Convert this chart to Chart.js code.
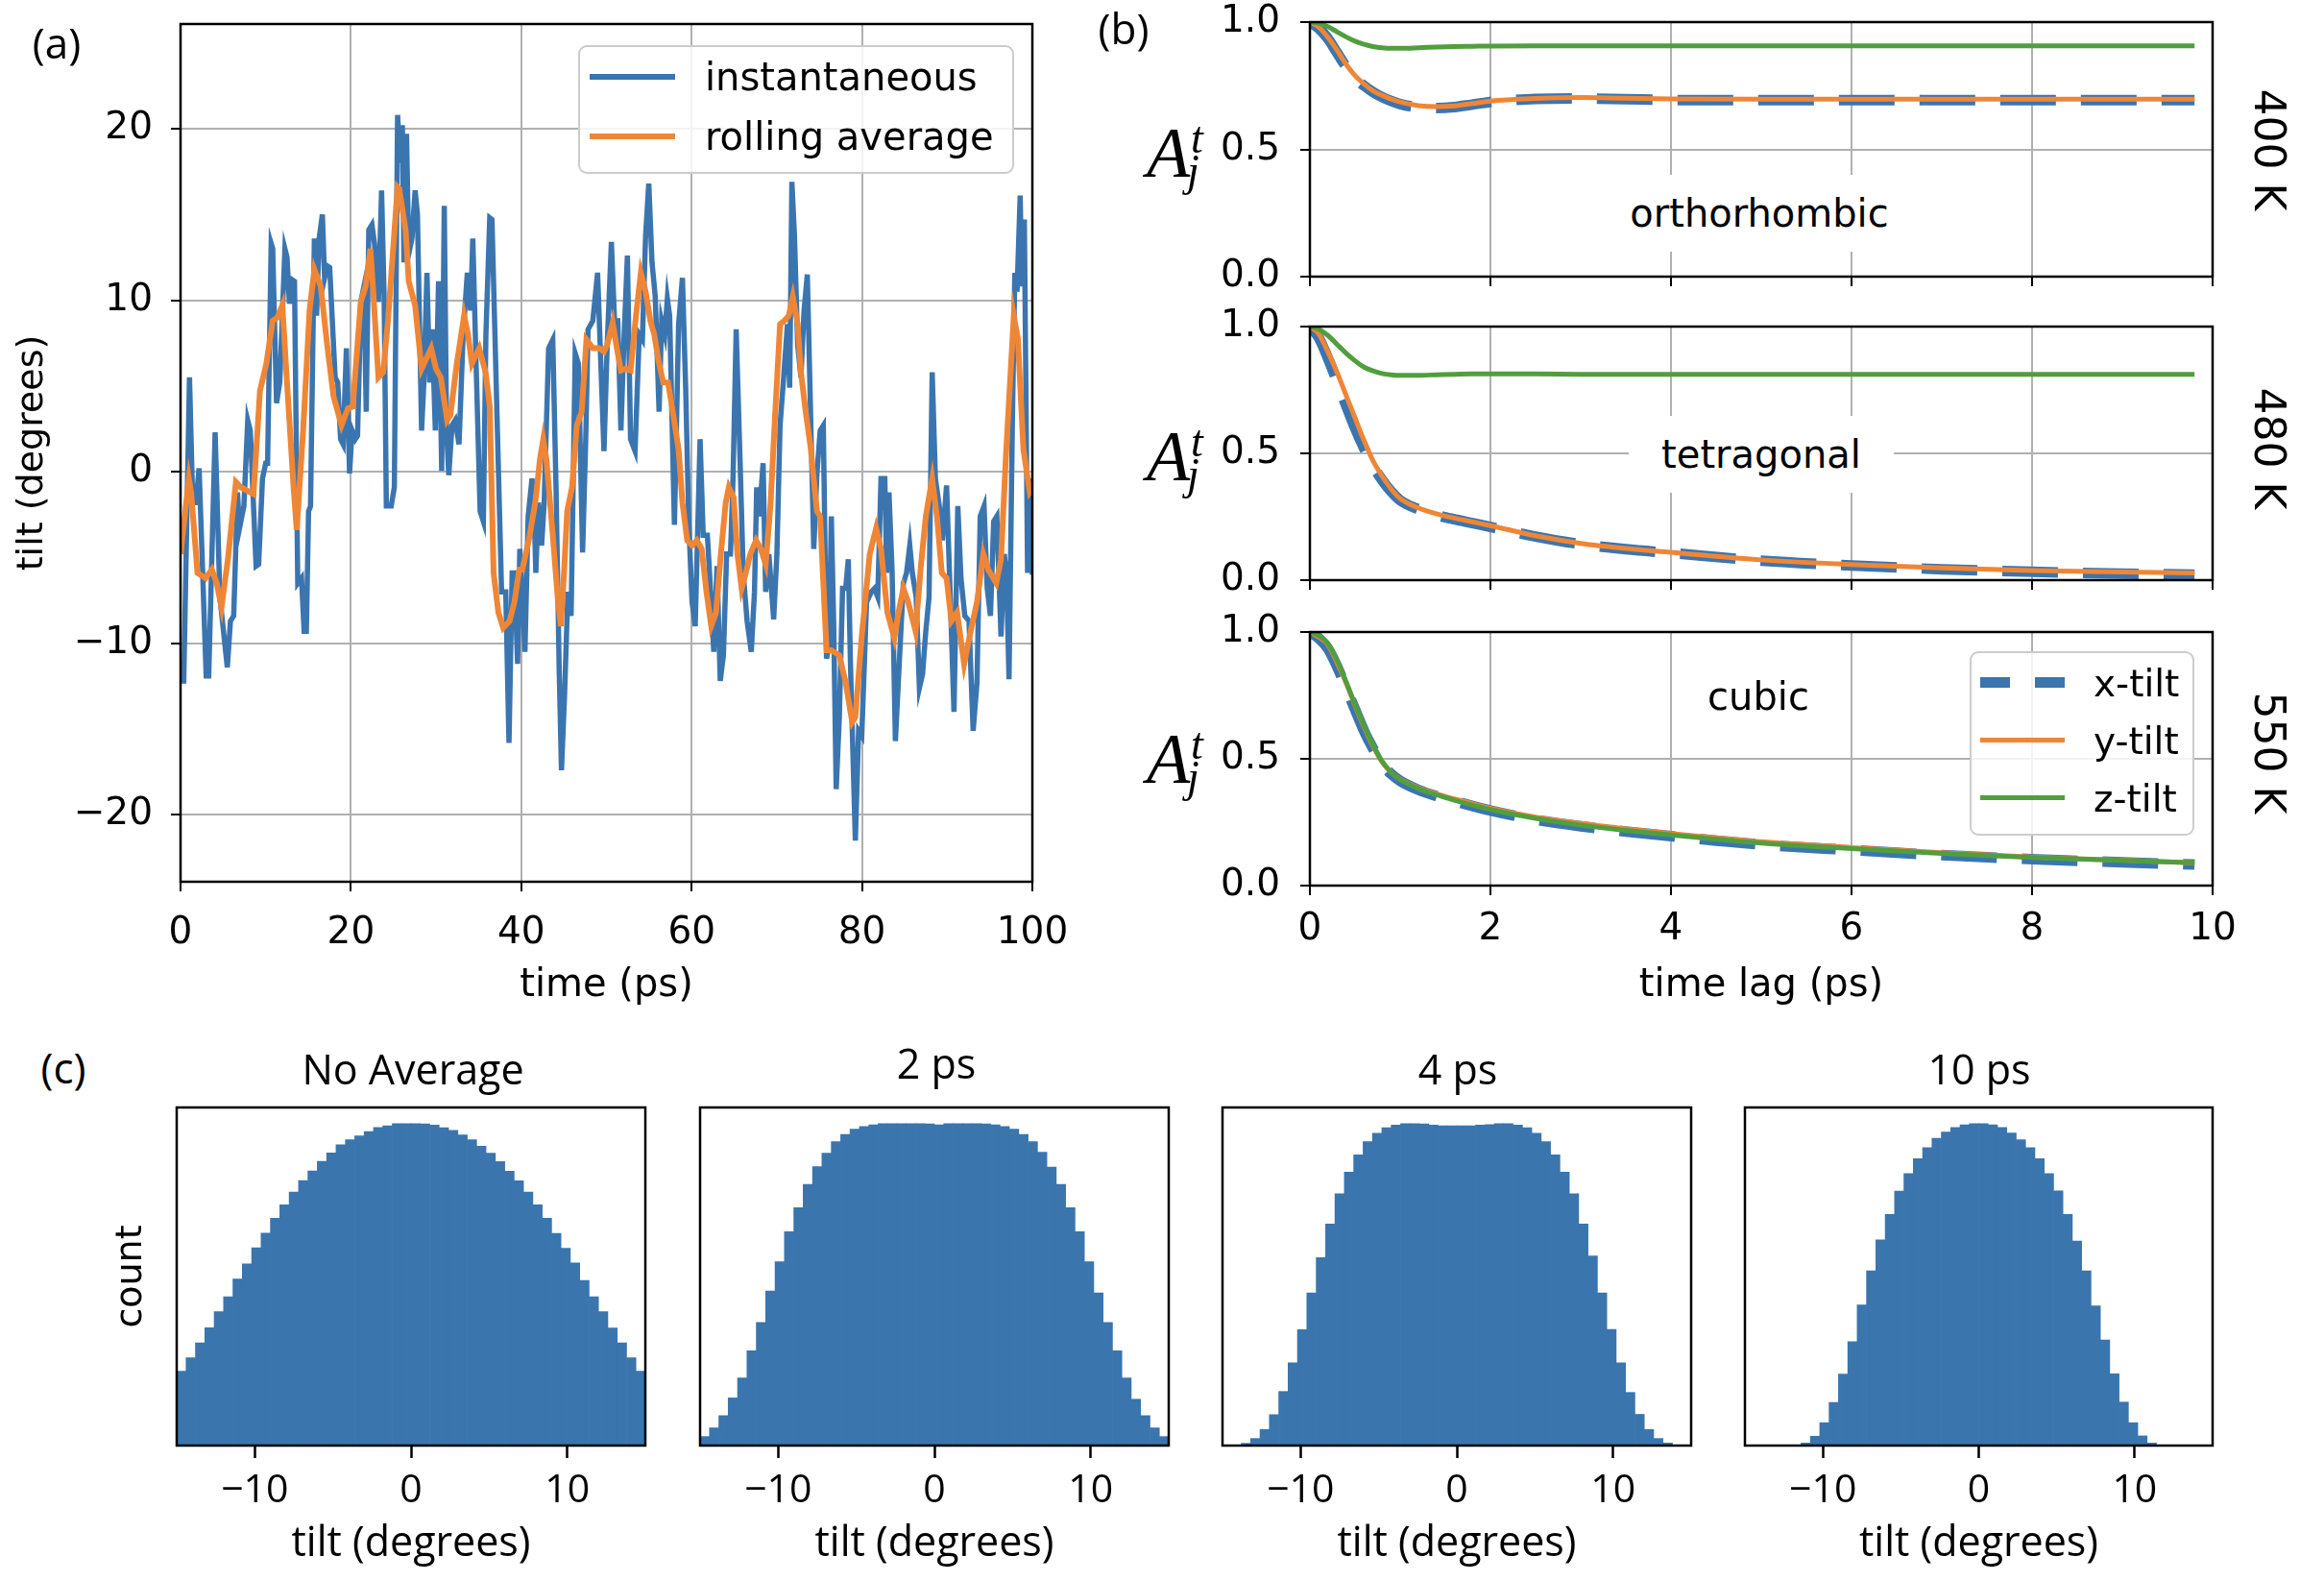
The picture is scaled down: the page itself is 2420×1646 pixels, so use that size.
<!DOCTYPE html>
<html>
<head>
<meta charset="utf-8">
<script src="https://cdn.jsdelivr.net/npm/chart.js@4.4.1/dist/chart.umd.min.js"></script>
<style>
  html, body { margin: 0; padding: 0; background: #fff; }
  body { width: 2420px; height: 1646px; position: relative; overflow: hidden; }
  .box { position: absolute; }
  .t { position: absolute; white-space: nowrap; line-height: 1; color: #000; transform: translate(-50%, -50%); z-index: 5; }
  .l { position: absolute; white-space: nowrap; line-height: 1; color: #000; transform: translate(0, -50%); z-index: 6; }
  .dv { font-family: 'DejaVu Sans'; }
  .os { font-family: 'Open Sans'; }
  .rot { transform: translate(-50%, -50%) rotate(90deg); }
  .legend { position: absolute; border: 2px solid #cccccc; border-radius: 9px; background: rgba(255,255,255,0.85); z-index: 5; box-sizing: border-box; }
  .sw { position: absolute; z-index: 6; }
  .note { background: #fff; padding: 20px 34px; }
  .A { position: absolute; font-family: 'Liberation Serif'; font-style: italic; line-height: 1; z-index: 5; }
</style>
</head>
<body>

<div class="box" id="wa"><canvas id="ca"></canvas></div>
<div class="box" id="wb1"><canvas id="cb1"></canvas></div>
<div class="box" id="wb2"><canvas id="cb2"></canvas></div>
<div class="box" id="wb3"><canvas id="cb3"></canvas></div>
<div class="box" id="wc1"><canvas id="cc1"></canvas></div>
<div class="box" id="wc2"><canvas id="cc2"></canvas></div>
<div class="box" id="wc3"><canvas id="cc3"></canvas></div>
<div class="box" id="wc4"><canvas id="cc4"></canvas></div>

<!-- panel letters -->
<div class="t os" style="left:59px;top:44px;font-size:44px;">(a)</div>
<div class="t os" style="left:1170px;top:29px;font-size:44px;">(b)</div>
<div class="t os" style="left:66px;top:1111px;font-size:44px;">(c)</div>

<!-- legend (a) -->
<div class="legend" style="left:602px;top:47px;width:454px;height:134px;"></div>
<div class="sw" style="left:614px;top:77px;width:89px;height:6px;background:#3b75af;"></div>
<div class="sw" style="left:614px;top:139px;width:89px;height:6px;background:#ef8636;"></div>
<div class="l dv" style="left:734px;top:80px;font-size:40px;">instantaneous</div>
<div class="l dv" style="left:734px;top:142px;font-size:40px;">rolling average</div>

<!-- legend (b) -->
<div class="legend" style="left:2051px;top:678px;width:234px;height:192px;"></div>
<div class="sw" style="left:2062px;top:705px;width:88px;height:11px;background:repeating-linear-gradient(to right,#3b75af 0 31px,transparent 31px 57px);"></div>
<div class="sw" style="left:2062px;top:768px;width:88px;height:5px;background:#ef8636;"></div>
<div class="sw" style="left:2062px;top:828px;width:88px;height:5px;background:#519e3e;"></div>
<div class="l dv" style="left:2180px;top:711px;font-size:39px;">x-tilt</div>
<div class="l dv" style="left:2180px;top:771px;font-size:39px;">y-tilt</div>
<div class="l dv" style="left:2180px;top:831px;font-size:39px;">z-tilt</div>

<!-- phase labels -->
<div class="t dv note" style="left:1832px;top:222px;font-size:40px;">orthorhombic</div>
<div class="t dv note" style="left:1834px;top:473px;font-size:40px;">tetragonal</div>
<div class="t dv" style="left:1831px;top:725px;font-size:40px;">cubic</div>

<!-- temperatures -->
<div class="t dv rot" style="left:2363px;top:156px;font-size:44px;">400 K</div>
<div class="t dv rot" style="left:2363px;top:467px;font-size:44px;">480 K</div>
<div class="t dv rot" style="left:2363px;top:784px;font-size:44px;">550 K</div>

<!-- A_j^t labels -->
<div class="A" style="left:1194px;top:122px;font-size:74px;">A</div>
<div class="A" style="left:1240px;top:121px;font-size:46px;">t</div>
<div class="A" style="left:1236px;top:155px;font-size:46px;">j</div>
<div class="A" style="left:1194px;top:438px;font-size:74px;">A</div>
<div class="A" style="left:1240px;top:437px;font-size:46px;">t</div>
<div class="A" style="left:1236px;top:471px;font-size:46px;">j</div>
<div class="A" style="left:1194px;top:753px;font-size:74px;">A</div>
<div class="A" style="left:1240px;top:752px;font-size:46px;">t</div>
<div class="A" style="left:1236px;top:786px;font-size:46px;">j</div>

<!-- histogram titles -->
<div class="t os" style="left:430px;top:1112px;font-size:43px;">No Average</div>
<div class="t os" style="left:975px;top:1106px;font-size:43px;">2 ps</div>
<div class="t os" style="left:1518px;top:1112px;font-size:43px;">4 ps</div>
<div class="t os" style="left:2061px;top:1112px;font-size:43px;">10 ps</div>

<script>
// ---- (a) tilt trace ----
const instTime = [0, 0.38, 1.05, 1.43, 1.8, 2.18, 3.01, 3.31, 4.06, 4.62, 5.0, 5.49, 5.86, 6.24, 6.69, 6.92, 7.44, 7.89, 8.19, 8.87,
  9.17, 9.62, 10.0, 10.22, 10.64, 10.82, 11.27, 11.65, 12.25, 12.5, 12.78, 13.08, 13.38, 13.76, 14.2, 14.51, 14.77, 15.03, 15.26, 15.71,
  15.97, 16.27, 16.65, 16.91, 17.21, 17.51, 18.15, 18.45, 18.79, 19.09, 19.47, 19.84, 20.14, 20.52, 20.78, 21.16, 21.53, 21.8, 22.1, 22.47,
  22.77, 23.23, 23.6, 23.9, 24.16, 24.73, 25.1, 25.48, 25.78, 26.04, 26.23, 26.53, 26.79, 27.17, 27.54, 27.81, 28.3, 28.56, 28.93, 29.24,
  29.54, 29.91, 30.29, 30.66, 30.96, 31.23, 31.49, 31.87, 32.24, 32.69, 33.18, 33.67, 34.05, 34.31, 34.68, 35.17, 35.55, 35.85, 36.3, 36.56,
  37.69, 38.18, 38.56, 38.93, 39.19, 39.57, 39.83, 40.13, 40.43, 40.81, 41.26, 41.49, 41.71, 42.01, 42.39, 42.69, 43.21, 43.7, 44.08, 44.45,
  44.72, 45.09, 45.47, 45.85, 46.33, 46.71, 47.2, 47.57, 47.84, 48.4, 48.96, 49.71, 50.09, 50.58, 50.95, 51.33, 51.7, 52.08, 52.46, 52.83,
  53.36, 53.85, 54.22, 54.6, 54.97, 55.35, 55.73, 56.18, 56.48, 56.85, 57.15, 57.42, 57.98, 58.47, 58.92, 59.3, 59.67, 60.05, 60.42, 60.99,
  61.36, 61.85, 62.23, 62.6, 62.98, 63.36, 63.73, 64.11, 64.56, 64.86, 65.23, 65.68, 66.06, 66.51, 67.0, 67.38, 67.64, 67.94, 68.39, 68.69,
  69.07, 69.63, 70.01, 70.38, 70.76, 71.25, 71.51, 71.77, 72.07, 72.45, 72.83, 73.2, 73.58, 74.34, 74.71, 75.09, 75.46, 75.84, 76.14, 76.4,
  76.67, 76.97, 77.34, 77.72, 78.09, 78.39, 78.66, 79.22, 79.6, 79.97, 80.54, 81.1, 81.48, 81.85, 82.23, 82.68, 82.9, 83.17, 83.54, 83.92,
  84.48, 84.86, 85.23, 85.61, 85.91, 86.36, 86.74, 87.11, 87.49, 87.87, 88.24, 88.62, 89.07, 89.44, 89.93, 90.31, 90.8, 91.25, 91.62, 92.07,
  92.56, 93.05, 93.5, 93.88, 94.33, 94.7, 95.08, 95.46, 95.83, 96.32, 96.7, 96.96, 97.26, 97.64, 97.94, 98.2, 98.57, 98.76, 99.06, 99.44,
  99.7, 100.0];
const instTilt = [-12.2, -12.2, 5.5, -1.8, -1.8, 0.2, -11.9, -11.9, 2.3, -7.3, -9.1, -11.4, -8.7, -8.4, -1.2, -3.3, -2.0, 3.0, 2.4, -5.5,
  -5.4, -0.4, 0.5, 0.5, 13.3, 13.0, 4.0, 5.2, 13.0, 12.5, 9.8, 11.2, 11.1, -6.5, -6.2, -9.3, -9.3, -2.3, -2.0, 13.6,
  9.1, 13.6, 15.0, 11.3, 12.0, 11.9, 5.5, 5.2, 1.9, 1.6, 7.2, -0.1, 2.4, 1.9, 2.1, 9.9, 10.8, 3.5, 14.1, 14.4,
  13.3, 9.9, 16.4, 10.2, -2.0, -2.0, -0.9, 20.8, 18.0, 20.2, 12.2, 19.7, 12.7, 13.6, 16.4, 15.0, 2.4, 5.2, 11.6, 5.2,
  8.3, 2.4, 11.1, 0.05, 15.5, 2.4, -0.2, 2.7, 3.0, 1.6, 8.0, 11.6, 9.4, 13.6, 6.6, -2.3, -2.9, 8.0, 14.8, 14.7,
  -7.0, -7.0, -15.8, -5.9, -5.9, -11.2, -4.5, -7.3, -10.5, -2.6, -0.4, -1.8, -5.9, -1.8, -4.3, -1.8, 7.2, 7.7, -0.9, -11.5,
  -17.4, -12.9, -7.0, -8.4, 6.9, 6.3, -4.7, 1.9, 8.3, 8.8, 11.6, 1.2, 7.4, 13.4, 8.8, 8.8, 2.4, 8.0, 12.6, 1.9,
  1.2, 8.0, 7.7, 13.8, 16.8, 12.2, 10.2, 3.5, 8.8, 8.0, 10.1, 9.1, -3.1, 8.6, 11.3, 4.9, -3.1, -7.6, -9.0, 1.9,
  -3.7, -3.7, -7.0, -10.5, -5.5, -12.2, -10.7, -4.8, -4.8, -0.4, 8.3, 0.75, -5.9, -8.7, -10.5, -7.0, -0.9, -2.6, 0.5, -7.0,
  -4.8, -8.6, -4.8, 2.7, 5.2, 8.6, 4.9, 16.9, 13.8, 7.4, 5.5, 9.4, 11.5, -4.5, -0.1, 2.4, 2.7, -10.9, -10.1, -2.6,
  -8.7, -18.5, -14.3, -6.8, -6.8, -5.1, -11.5, -21.5, -15.1, -15.4, -7.6, -7.0, -6.8, -7.3, -0.4, -0.4, -5.9, -1.2, -5.9, -15.7,
  -10.1, -6.5, -5.9, -4.3, -5.9, -7.3, -12.6, -11.8, -9.3, -7.3, 5.8, -0.4, -2.0, -4.0, -0.8, -6.5, -14.0, -2.0, -6.2, -8.4,
  -8.7, -15.1, -12.3, -2.6, -2.0, -6.8, -8.4, -2.9, -2.6, -9.6, -4.8, -5.9, -12.1, 2.4, 11.6, 10.5, 16.1, 10.8, 14.7, -5.9,
  -0.4, -6.0];
const rollTime = [0, 0.98, 1.24, 1.99, 2.93, 3.68, 4.25, 4.81, 5.56, 6.5, 7.07, 8.57, 9.32, 10.07, 10.82, 11.39, 11.95, 12.5, 13.27, 13.64,
  14.39, 15.15, 15.71, 16.46, 17.21, 17.96, 18.9, 19.66, 20.22, 21.16, 21.72, 22.29, 22.66, 23.23, 23.79, 24.35, 25.48, 25.67, 26.42, 26.79,
  27.54, 28.3, 28.86, 29.42, 29.99, 30.55, 31.3, 31.68, 32.43, 33.29, 33.75, 34.2, 35.06, 35.81, 36.3, 36.75, 37.31, 37.88, 38.63, 39.19,
  39.76, 40.13, 40.88, 41.64, 42.2, 42.58, 42.95, 43.7, 44.27, 44.64, 45.02, 45.39, 45.96, 46.52, 47.09, 47.65, 48.4, 49.15, 49.71, 50.09,
  50.73, 51.22, 51.7, 52.23, 52.83, 53.47, 54.04, 54.6, 55.16, 55.61, 56.1, 56.67, 57.23, 57.79, 58.47, 58.92, 59.48, 60.05, 60.61, 61.18,
  61.74, 62.3, 62.87, 63.43, 64.0, 64.37, 64.93, 65.38, 65.87, 66.36, 66.89, 67.56, 68.13, 68.69, 69.25, 69.82, 70.38, 70.87, 71.4, 71.88,
  72.45, 72.83, 73.39, 73.95, 74.71, 75.09, 75.84, 76.4, 77.34, 78.09, 78.85, 79.22, 79.97, 80.91, 81.66, 82.23, 82.98, 83.8, 84.29, 84.86,
  85.42, 86.29, 86.93, 87.49, 88.24, 88.8, 89.37, 89.93, 90.5, 91.17, 91.99, 92.75, 93.5, 94.25, 94.82, 95.76, 96.32, 96.88, 97.82, 98.31,
  98.95, 99.7, 100.0];
const rollTilt = [-4.8, -0.4, -1.2, -5.9, -6.2, -5.7, -6.5, -7.9, -5.1, -0.6, -0.9, -1.3, 4.7, 6.3, 8.8, 9.0, 9.7, 5.2, -0.9, -3.4,
  2.4, 9.4, 11.8, 10.8, 7.4, 4.4, 2.7, 3.7, 3.8, 9.9, 10.8, 13.0, 10.2, 5.5, 5.8, 8.8, 16.6, 16.5, 14.1, 11.1,
  9.7, 6.0, 6.6, 7.2, 6.0, 5.5, 3.0, 3.3, 6.3, 9.1, 8.0, 6.3, 7.2, 5.8, 3.8, -5.9, -8.2, -9.1, -8.7, -7.6,
  -5.7, -5.7, -4.0, -1.8, 0.75, 1.9, 0.75, -3.7, -7.3, -9.0, -5.9, -2.3, -0.9, 2.7, 3.5, 7.7, 7.2, 7.2, 7.0, 7.4,
  8.7, 7.2, 5.9, 6.0, 5.9, 9.1, 11.6, 10.5, 8.8, 8.0, 6.5, 5.2, 5.2, 3.5, 1.3, -1.8, -4.0, -4.3, -4.0, -4.5,
  -7.0, -9.0, -8.2, -4.8, -1.8, -0.9, -1.5, -4.8, -6.8, -5.9, -4.8, -4.0, -4.5, -5.4, -2.0, 3.5, 8.6, 8.8, 9.1, 10.2,
  8.6, 5.8, 3.5, 1.5, -2.3, -2.6, -10.4, -10.4, -10.7, -12.3, -14.6, -14.3, -9.6, -4.8, -3.3, -4.5, -8.2, -9.7, -8.2, -6.8,
  -7.6, -9.3, -5.4, -2.6, -0.4, -2.6, -5.9, -6.2, -8.7, -8.2, -11.2, -9.3, -7.6, -4.8, -5.7, -6.5, -5.1, 0.75, 9.1, 7.7,
  1.3, -1.2, -1.0];
const timeTicks = [0, 20, 40, 60, 80, 100];
const tiltTicks = [-20, -10, 0, 10, 20];

// ---- (b) autocorrelation, 400 K / 480 K / 550 K ----
const lagTime = [0, 0.1, 0.2, 0.3, 0.4, 0.5, 0.6, 0.7, 0.8, 0.9, 1.0, 1.2, 1.4, 1.6, 1.8, 2.0, 2.5, 3.0, 3.5, 4, 5, 6, 7, 8, 9, 9.8];
const orthoX = [1.0, 0.975, 0.935, 0.88, 0.825, 0.78, 0.75, 0.725, 0.705, 0.69, 0.678, 0.665, 0.662, 0.666, 0.676, 0.686, 0.698, 0.700, 0.697, 0.694, 0.693, 0.693, 0.693, 0.693, 0.693, 0.693];
const orthoY = [1.0, 0.98, 0.94, 0.89, 0.835, 0.79, 0.757, 0.73, 0.712, 0.698, 0.686, 0.672, 0.668, 0.671, 0.68, 0.69, 0.70, 0.704, 0.701, 0.698, 0.697, 0.697, 0.697, 0.697, 0.697, 0.697];
const orthoZ = [1.0, 0.995, 0.982, 0.962, 0.942, 0.925, 0.913, 0.904, 0.899, 0.897, 0.897, 0.899, 0.902, 0.904, 0.905, 0.906, 0.907, 0.907, 0.907, 0.907, 0.907, 0.907, 0.907, 0.907, 0.907, 0.907];
const tetraX = [1.0, 0.955, 0.875, 0.785, 0.69, 0.60, 0.52, 0.45, 0.395, 0.35, 0.315, 0.28, 0.257, 0.24, 0.225, 0.21, 0.172, 0.142, 0.122, 0.107, 0.077, 0.058, 0.043, 0.033, 0.026, 0.022];
const tetraY = [1.0, 0.97, 0.90, 0.82, 0.73, 0.64, 0.55, 0.47, 0.41, 0.36, 0.322, 0.285, 0.262, 0.245, 0.23, 0.215, 0.175, 0.145, 0.125, 0.11, 0.08, 0.062, 0.048, 0.038, 0.032, 0.028];
const tetraZ = [1.0, 0.99, 0.965, 0.93, 0.895, 0.865, 0.84, 0.825, 0.815, 0.81, 0.808, 0.808, 0.81, 0.812, 0.813, 0.813, 0.813, 0.812, 0.812, 0.812, 0.812, 0.812, 0.812, 0.812, 0.812, 0.812];
const cubicX = [1.0, 0.975, 0.935, 0.865, 0.78, 0.695, 0.61, 0.54, 0.48, 0.44, 0.413, 0.378, 0.353, 0.333, 0.314, 0.296, 0.26, 0.234, 0.213, 0.195, 0.162, 0.14, 0.12, 0.104, 0.092, 0.083];
const cubicY = [1.0, 0.98, 0.95, 0.88, 0.80, 0.71, 0.625, 0.55, 0.487, 0.447, 0.42, 0.386, 0.362, 0.342, 0.323, 0.305, 0.27, 0.245, 0.224, 0.206, 0.173, 0.15, 0.13, 0.113, 0.1, 0.09];
const cubicZ = [1.0, 0.985, 0.955, 0.89, 0.805, 0.715, 0.63, 0.555, 0.49, 0.447, 0.418, 0.383, 0.358, 0.337, 0.318, 0.3, 0.265, 0.239, 0.218, 0.2, 0.168, 0.146, 0.127, 0.111, 0.099, 0.09];
const lagTicks = [0, 2, 4, 6, 8, 10];
const acfTicks = [0, 0.5, 1];

// ---- (c) histograms, counts scaled so the tallest bin is 100 ----
const binCenters = [-14.7, -14.1, -13.5, -12.9, -12.3, -11.7, -11.1, -10.5, -9.9, -9.3, -8.7, -8.1, -7.5, -6.9, -6.3, -5.7, -5.1, -4.5, -3.9, -3.3,
  -2.7, -2.1, -1.5, -0.9, -0.3, 0.3, 0.9, 1.5, 2.1, 2.7, 3.3, 3.9, 4.5, 5.1, 5.7, 6.3, 6.9, 7.5, 8.1, 8.7,
  9.3, 9.9, 10.5, 11.1, 11.7, 12.3, 12.9, 13.5, 14.1, 14.7];
const histNoAvg = [23.1, 27.3, 31.9, 36.6, 41.6, 46.2, 51.7, 56.4, 61.4, 66.0, 70.6, 74.8, 78.7, 82.3, 85.3, 88.3, 90.9, 93.4, 95.0, 96.2,
  97.5, 98.8, 99.3, 100, 100, 100, 99.9, 99.5, 98.7, 97.9, 96.5, 95.0, 93.0, 90.8, 88.2, 85.2, 82.2, 78.7, 74.8, 70.6,
  65.9, 61.3, 56.7, 51.3, 46.2, 41.6, 36.5, 31.9, 27.3, 23.1];
const hist2ps = [2.8, 5.5, 9.3, 14.8, 21.0, 29.4, 38.2, 48.0, 57.1, 66.4, 73.9, 81.1, 86.6, 90.8, 94.4, 96.6, 98.3, 99.1, 99.6, 100,
  100, 100, 100, 100, 99.9, 99.6, 100, 100, 100, 100, 99.9, 99.6, 99.1, 98.3, 96.6, 94.4, 91.1, 86.5, 81.1, 73.9,
  66.4, 57.1, 47.4, 38.2, 29.4, 21.0, 14.4, 9.3, 5.5, 2.8];
const hist4ps = [0, 0, 0.7, 2.2, 5.0, 9.6, 16.8, 25.7, 36.0, 47.4, 58.4, 68.8, 78.2, 84.9, 90.3, 94.4, 97.0, 98.7, 99.5, 100,
  100, 99.9, 99.5, 99.3, 99.3, 99.3, 99.3, 99.5, 99.7, 100, 100, 99.5, 98.7, 97.0, 94.4, 90.3, 84.9, 78.2, 68.8, 58.9,
  47.4, 36.1, 25.7, 16.5, 9.7, 5.0, 2.2, 0.8, 0, 0];
const hist10ps = [0, 0, 0, 0, 0, 0, 0.8, 2.9, 7.1, 13.4, 22.2, 32.3, 43.7, 54.3, 63.9, 71.8, 79.0, 84.5, 89.1, 92.5,
  95.4, 97.4, 98.8, 99.6, 100, 100, 99.6, 98.8, 97.1, 95.0, 92.5, 89.1, 84.5, 79.1, 71.8, 63.5, 54.3, 43.4, 32.8, 22.3,
  13.5, 7.1, 3.0, 0.8, 0, 0, 0, 0, 0, 0];
const histTicks = [-10, 0, 10];

const BLUE = '#3b75af', ORANGE = '#ef8636', GREEN = '#519e3e', BAR = '#3a75ae', GRID = '#b0b0b0';

// black box round every plot area
const frame = {
  id: 'frame',
  afterDatasetsDraw(chart) {
    const a = chart.chartArea, ctx = chart.ctx;
    ctx.save();
    ctx.strokeStyle = '#000';
    ctx.lineWidth = 2.5;
    ctx.strokeRect(a.left, a.top, a.right - a.left, a.bottom - a.top);
    ctx.restore();
  }
};

// size the wrapper so that the plot area lands on area = [left, top, right, bottom]
function place(id, area, pad) {
  const el = document.getElementById('w' + id.slice(1));
  el.style.left = (area[0] - pad[0]) + 'px';
  el.style.top = (area[1] - pad[1]) + 'px';
  el.style.width = (area[2] - area[0] + pad[0] + pad[2]) + 'px';
  el.style.height = (area[3] - area[1] + pad[1] + pad[3]) + 'px';
  return document.getElementById(id);
}
const tickList = vals => s => { s.ticks = vals.map(v => ({ value: v })); };
const minus = v => (v < 0 ? '\u2212' : '') + Math.abs(v);
const pts = (xs, ys) => xs.map((x, i) => ({ x: x, y: ys[i] }));

function baseOptions(pad) {
  return {
    animation: false,
    responsive: true,
    maintainAspectRatio: false,
    devicePixelRatio: 1,
    layout: { padding: { left: 0, top: pad[1], right: pad[2], bottom: 0 } },
    plugins: { legend: { display: false }, tooltip: { enabled: false } },
    elements: { point: { radius: 0 }, line: { tension: 0 } }
  };
}
const gridLines = { color: GRID, lineWidth: 2, tickColor: '#000', tickLength: 10, tickWidth: 2 };
const dv = (size, lh) => ({ family: 'DejaVu Sans', size: size, lineHeight: lh || 1.2 });

// (a)
const padA = [177, 50, 70, 133];
const optA = baseOptions(padA);
optA.scales = {
  x: {
    type: 'linear', min: 0, max: 100,
    afterBuildTicks: tickList(timeTicks),
    afterFit: s => { s.height = padA[3]; },
    border: { display: false }, grid: gridLines,
    ticks: { color: '#000', font: dv(39, 1), padding: 24, maxRotation: 0, callback: minus },
    title: { display: true, text: 'time (ps)', color: '#000', font: dv(40), padding: 0 }
  },
  y: {
    type: 'linear', min: -23.9, max: 26.1,
    afterBuildTicks: tickList(tiltTicks),
    afterFit: s => { s.width = padA[0]; },
    border: { display: false }, grid: gridLines,
    ticks: { color: '#000', font: dv(39, 1), padding: 19, callback: minus },
    title: { display: true, text: 'tilt (degrees)', color: '#000', font: dv(38), padding: 0 }
  }
};
new Chart(place('ca', [188, 25, 1075, 918], padA), {
  type: 'line',
  data: {
    datasets: [
      { label: 'rolling average', data: pts(rollTime, rollTilt), borderColor: ORANGE, borderWidth: 6, order: 0 },
      { label: 'instantaneous', data: pts(instTime, instTilt), borderColor: BLUE, borderWidth: 5.5, order: 1 }
    ]
  },
  options: optA,
  plugins: [frame]
});

// (b)
function acfChart(id, area, pad, xs, ys, zs, showX) {
  const opt = baseOptions(pad);
  opt.scales = {
    x: {
      type: 'linear', min: 0, max: 10,
      afterBuildTicks: tickList(lagTicks),
      afterFit: s => { s.height = pad[3]; },
      border: { display: false }, grid: gridLines,
      ticks: { display: showX, color: '#000', font: dv(39, 1), padding: 16, maxRotation: 0 },
      title: { display: showX, text: 'time lag (ps)', color: '#000', font: dv(40), padding: 0 }
    },
    y: {
      type: 'linear', min: 0, max: 1,
      afterBuildTicks: tickList(acfTicks),
      afterFit: s => { s.width = pad[0]; },
      border: { display: false }, grid: gridLines,
      ticks: { color: '#000', font: dv(39, 1), padding: 21, callback: v => v.toFixed(1) }
    }
  };
  new Chart(place(id, area, pad), {
    type: 'line',
    data: {
      datasets: [
        { label: 'z-tilt', data: pts(lagTime, zs), borderColor: GREEN, borderWidth: 5, cubicInterpolationMode: 'monotone', order: 0 },
        { label: 'y-tilt', data: pts(lagTime, ys), borderColor: ORANGE, borderWidth: 5, cubicInterpolationMode: 'monotone', order: 1 },
        { label: 'x-tilt', data: pts(lagTime, xs), borderColor: BLUE, borderWidth: 11, borderDash: [58, 26], cubicInterpolationMode: 'monotone', order: 2 }
      ]
    },
    options: opt,
    plugins: [frame]
  });
}
acfChart('cb1', [1364, 23, 2304, 288], [120, 50, 60, 50], orthoX, orthoY, orthoZ, false);
acfChart('cb2', [1364, 340, 2304, 604], [120, 50, 60, 50], tetraX, tetraY, tetraZ, false);
acfChart('cb3', [1364, 658, 2304, 922], [120, 50, 60, 129], cubicX, cubicY, cubicZ, true);

// (c)
function histChart(id, area, pad, counts, yTitle) {
  const opt = baseOptions(pad);
  opt.scales = {
    x: {
      type: 'linear', min: -15, max: 15, offset: false,
      afterBuildTicks: tickList(histTicks),
      afterFit: s => { s.height = pad[3]; },
      border: { display: false },
      grid: { offset: false, drawOnChartArea: false, drawTicks: true, tickColor: '#000', tickLength: 13, tickWidth: 2.5 },
      ticks: { color: '#000', font: { family: 'Open Sans', size: 41, lineHeight: 1 }, padding: 14, maxRotation: 0, callback: minus },
      title: { display: true, text: 'tilt (degrees)', color: '#000', font: { family: 'Open Sans', size: 43, lineHeight: 1.2 }, padding: 0 }
    },
    y: {
      type: 'linear', min: 0, max: 105,
      afterFit: s => { s.width = pad[0]; },
      border: { display: false }, grid: { display: false },
      ticks: { display: false },
      title: { display: !!yTitle, text: yTitle || '', color: '#000', font: dv(38), padding: 0 }
    }
  };
  new Chart(place(id, area, pad), {
    type: 'bar',
    data: {
      datasets: [{ data: pts(binCenters, counts), backgroundColor: BAR, borderWidth: 0, barPercentage: 1, categoryPercentage: 1 }]
    },
    options: opt,
    plugins: [frame]
  });
}
histChart('cc1', [184, 1153, 672, 1505], [70, 20, 20, 129], histNoAvg, 'count');
histChart('cc2', [729, 1153, 1217, 1505], [30, 20, 20, 129], hist2ps);
histChart('cc3', [1273, 1153, 1761, 1505], [30, 20, 20, 129], hist4ps);
histChart('cc4', [1817, 1153, 2304, 1505], [30, 20, 20, 129], hist10ps);
</script>
</body>
</html>
